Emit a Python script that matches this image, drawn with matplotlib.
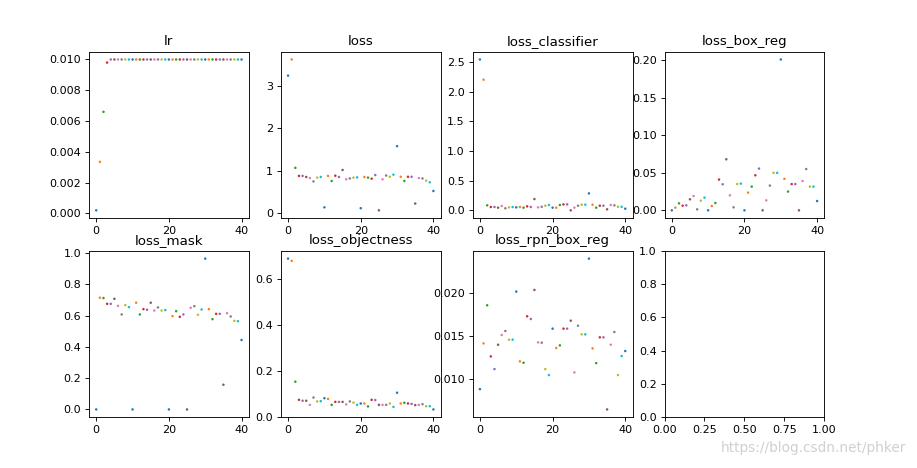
import matplotlib
matplotlib.use("Agg")
import matplotlib.pyplot as plt

titles = ["lr", "loss", "loss_classifier", "loss_box_reg",
          "loss_mask", "loss_objectness", "loss_rpn_box_reg"]

lr = [0.0002, 0.00335, 0.0066, 0.0098] + [0.01] * 37

loss = [3.24, 3.62, 1.07, 0.88, 0.88, 0.855, 0.83, 0.75, 0.84, 0.855,
        0.14, 0.88, 0.76, 0.885, 0.855, 1.02, 0.80, 0.82, 0.84, 0.845,
        0.12, 0.855, 0.84, 0.815, 0.90, 0.07, 0.80, 0.89, 0.86, 0.91,
        1.58, 0.86, 0.76, 0.86, 0.86, 0.23, 0.83, 0.82, 0.77, 0.73, 0.525]

loss_classifier = [2.54, 2.20, 0.084, 0.056, 0.056, 0.045, 0.073, 0.034, 0.05, 0.056,
                   0.05, 0.056, 0.045, 0.067, 0.056, 0.19, 0.05, 0.06, 0.078, 0.09,
                   0.045, 0.045, 0.09, 0.10, 0.10, 0.0, 0.045, 0.078, 0.095, 0.095,
                   0.285, 0.095, 0.045, 0.078, 0.078, 0.017, 0.09, 0.084, 0.06, 0.06, 0.028]

loss_box_reg = [0.0, 0.0036, 0.0093, 0.0062, 0.0067, 0.0147, 0.019, 0.0013, 0.0129, 0.0169,
                0.0, 0.0058, 0.0098, 0.041, 0.0347, 0.068, 0.020, 0.004, 0.035, 0.0356,
                0.0, 0.0236, 0.0316, 0.0467, 0.0556, 0.0, 0.0133, 0.033, 0.050, 0.050,
                0.201, 0.042, 0.025, 0.035, 0.035, 0.0, 0.039, 0.055, 0.0316, 0.0316, 0.0124]

loss_mask = [0.0, 0.714, 0.712, 0.675, 0.675, 0.707, 0.662, 0.607, 0.667, 0.654,
             0.0, 0.682, 0.607, 0.641, 0.637, 0.682, 0.632, 0.652, 0.632, 0.635,
             0.0, 0.596, 0.628, 0.592, 0.607, 0.0, 0.65, 0.66, 0.605, 0.639,
             0.964, 0.641, 0.577, 0.611, 0.611, 0.158, 0.615, 0.594, 0.566, 0.564, 0.444]

loss_objectness = [0.689, 0.679, 0.152, 0.073, 0.069, 0.069, 0.051, 0.083, 0.066, 0.067,
                   0.080, 0.077, 0.051, 0.064, 0.064, 0.064, 0.053, 0.066, 0.061, 0.051,
                   0.057, 0.057, 0.044, 0.073, 0.072, 0.051, 0.051, 0.051, 0.057, 0.042,
                   0.104, 0.057, 0.060, 0.057, 0.055, 0.050, 0.051, 0.054, 0.045, 0.045, 0.031]

loss_rpn_box_reg = [0.00888, 0.01415, 0.01854, 0.01265, 0.01119, 0.0140, 0.01512, 0.01558, 0.01458, 0.01458,
                    0.02012, 0.01208, 0.01192, 0.01727, 0.01696, 0.02031, 0.01427, 0.01423, 0.01119, 0.0105,
                    0.01585, 0.01362, 0.01392, 0.01585, 0.01585, 0.01677, 0.01081, 0.01619, 0.01519, 0.01519,
                    0.02392, 0.01358, 0.01188, 0.01485, 0.01485, 0.00654, 0.0140, 0.01546, 0.0105, 0.01269, 0.01327]

series = [lr, loss, loss_classifier, loss_box_reg, loss_mask, loss_objectness, loss_rpn_box_reg]

palette = plt.rcParams['axes.prop_cycle'].by_key()['color']

DPI = 80
fig, axes = plt.subplots(2, 4, figsize=(917 / DPI, 468 / DPI), dpi=DPI)
fig.subplots_adjust(left=0.097, right=0.899, top=0.889, bottom=0.109,
                    wspace=0.2, hspace=0.2)

for ax, title, vals in zip(axes.flat, titles, series):
    xs = list(range(len(vals)))
    cols = [palette[i % len(palette)] for i in xs]
    ax.scatter(xs, vals, s=5, c=cols, linewidths=0)
    ax.set_title(title)

fig.text(0.988, 0.043, "https://blog.csdn.net/phker", ha="right", va="center",
         fontsize=12.3, color="#d0d0d0")

fig.savefig("out.png", dpi=DPI)
